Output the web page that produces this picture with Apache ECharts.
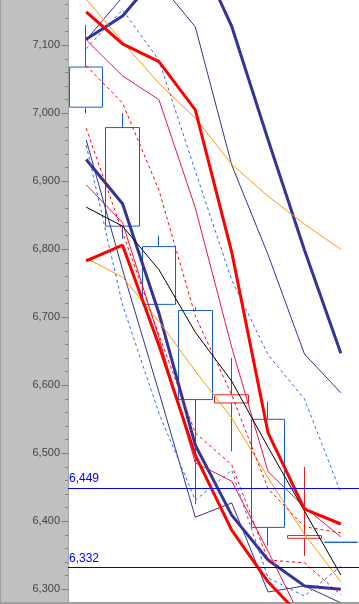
<!DOCTYPE html>
<html><head><meta charset="utf-8">
<script src="https://cdn.jsdelivr.net/npm/echarts@6/dist/echarts.min.js"></script>
<style>html,body{margin:0;padding:0;background:#c0c0c0}#c{width:359px;height:604px}</style>
</head><body><div id="c"></div>
<script>
// ---- data ----
const categories = ['1','2','3','4','5','6','7','8'];
// [open, close, low, high]
const candles = [
  [7068, 7009, 7000, 7130],
  [6979, 6834, 6815, 7000],
  [6804, 6719, 6719, 6820],
  [6710, 6579, 6425, 6715],
  [6574, 6586, 6503, 6640],
  [6550, 6391, 6364, 6576],
  [6375, 6379, 6349, 6480],
  [6369.3, 6369, 6369, 6369.3]
];
const thickRedU  = [7149, 7102, 7076, 7005, 6796, 6530, 6418, 6396];
const thickRedL  = [6783, 6806, 6659, 6497, 6387, 6311, 6255, 6225];
const thickNavyU = [7109, 7143, 7206, 7244, 7128, 6961, 6799, 6647];
const thickNavyL = [6932, 6867, 6706, 6512, 6409, 6343, 6305, 6300];
const thinNavyU  = [7108, 7171, 7192, 7127, 6924, 6792, 6646, 6589];
const thinNavyL  = [6961, 6770, 6590, 6406, 6427, 6296, 6305, 6280];
const orangeU    = [7168, 7105, 7044, 6993, 6925, 6878, 6837, 6800];
const orangeL    = [6787, 6759, 6694, 6621, 6552, 6464, 6381, 6311];
const crimsonU   = [7108, 7055, 7020, 6861, 6656, 6473, 6421, 6377];
const crimsonL   = [6895, 6839, 6670, 6486, 6459, 6356, 6248, 6211];
const redDashU   = [7070, 7015, 6887, 6702, 6586, 6448, 6392, 6383];
const redDashL   = [6978, 6825, 6674, 6530, 6483, 6343, 6339, 6292];
const blueDashU  = [7095, 7152, 7078, 6915, 6755, 6645, 6580, 6442];
const blueDashL  = [6953, 6718, 6559, 6431, 6475, 6317, 6290, 6334];
const blackLine  = [6862, 6834, 6770, 6678, 6606, 6509, 6415, 6321];
const yTicks = [6300, 6400, 6500, 6600, 6700, 6800, 6900, 7000, 7100];
const yMinorTicks = [];
for (let v = 6300; v <= 7160; v += 20) if (v % 100 !== 0) yMinorTicks.push(v);
const markHigh = 6449;
const markLow = 6332;
const yMin = 6281.3, yMax = 7166.6;

// ---- chart ----
const fmt = v => String(v).replace(/\B(?=(\d{3})+(?!\d))/g, ',');
const lineDefs = [
  [thickNavyU, '#333399', 3, 'solid'],
  [thickNavyL, '#333399', 3, 'solid'],
  [thinNavyU, '#333399', 1, 'solid'],
  [thinNavyL, '#333399', 1, 'solid'],
  [orangeU, '#ff9900', 1, 'solid'],
  [orangeL, '#ff9900', 1, 'solid'],
  [blueDashU, '#3366ff', 1, [3, 3]],
  [blueDashL, '#3366ff', 1, [3, 3]],
  [redDashU, '#ff0000', 1, [3, 3]],
  [redDashL, '#ff0000', 1, [3, 3]],
  [crimsonU, '#e8154e', 1, 'solid'],
  [crimsonL, '#e8154e', 1, 'solid'],
  [blackLine, '#000000', 1, 'solid'],
  [thickRedU, '#ff0000', 3, 'solid'],
  [thickRedL, '#ff0000', 3, 'solid']
];
const series = [{
  type: 'candlestick',
  data: candles,
  barWidth: 34,
  itemStyle: {
    color: 'rgba(0,0,0,0)', color0: 'rgba(0,0,0,0)',
    borderColor: '#e02020', borderColor0: '#1a5fcc', borderWidth: 1
  },
  markLine: {
    silent: true, symbol: 'none', animation: false,
    data: [
      { yAxis: markHigh, lineStyle: { color: '#0000ff', width: 1, type: 'solid' },
        label: { formatter: fmt(markHigh) } },
      { yAxis: markLow, lineStyle: { color: '#0000c8', width: 1, type: 'solid' },
        label: { formatter: fmt(markLow) } }
    ],
    label: { position: 'insideStartTop', distance: [1, 3], color: '#0000ff',
      fontFamily: 'Liberation Sans', fontSize: 12 }
  }
}];
lineDefs.forEach(([d, c, w, t]) => series.push({
  type: 'line', data: d, symbol: 'none', clip: true, silent: true,
  lineStyle: { color: c, width: w, type: t }
}));

const chart = echarts.init(document.getElementById('c'), null, { renderer: 'canvas' });
chart.setOption({
  animation: false,
  backgroundColor: '#c0c0c0',
  grid: { left: 68, right: 0, top: 0, bottom: 2, show: true, backgroundColor: '#ffffff', borderWidth: 0 },
  xAxis: { type: 'category', data: categories, boundaryGap: true, show: false },
  yAxis: [{
    type: 'value', min: yMin, max: yMax, position: 'left',
    splitLine: { show: false },
    axisLine: { show: true, lineStyle: { color: '#a0a0a0', width: 1 } },
    axisTick: { show: true, length: 7, customValues: yTicks, lineStyle: { color: '#808080' } },
    axisLabel: { customValues: yTicks, formatter: fmt, margin: 8, color: '#444444',
      fontFamily: 'Liberation Sans', fontSize: 11 }
  }, {
    type: 'value', min: yMin, max: yMax, position: 'left',
    splitLine: { show: false },
    axisLine: { show: false },
    axisTick: { show: true, length: 3, customValues: yMinorTicks, lineStyle: { color: '#808080' } },
    axisLabel: { show: false }
  }],
  graphic: [
    { type: 'rect', shape: { x: 0, y: 0, width: 1, height: 604 }, style: { fill: '#a0a0a0' } },
    { type: 'rect', shape: { x: 0, y: 602, width: 359, height: 2 }, style: { fill: '#a0a0a0' } }
  ],
  series: series
});
</script></body></html>
